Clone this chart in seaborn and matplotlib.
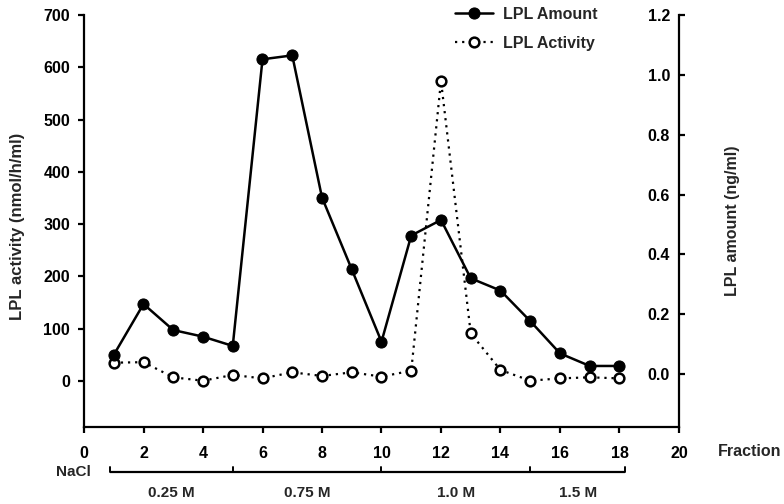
import numpy as np
import pandas as pd
import matplotlib
matplotlib.use("Agg")
import matplotlib.pyplot as plt
import matplotlib.transforms as mtransforms
import seaborn as sns

# ---- data ----
fractions = [1, 2, 3, 4, 5, 6, 7, 8, 9, 10, 11, 12, 13, 14, 15, 16, 17, 18]
lpl_amount = [0.064, 0.234, 0.147, 0.125, 0.094, 1.052, 1.065, 0.590, 0.350,
              0.108, 0.463, 0.515, 0.320, 0.279, 0.177, 0.069, 0.027, 0.027]
lpl_activity = [35, 36, 7, 0.5, 11.5, 5, 16.6, 9.6, 16.6,
                8.3, 19.7, 574, 91, 21, 0.6, 5, 7, 5]
x_ticks = [0, 2, 4, 6, 8, 10, 12, 14, 16, 18, 20]
left_ticks = [0, 100, 200, 300, 400, 500, 600, 700]
right_ticks = [0.0, 0.2, 0.4, 0.6, 0.8, 1.0, 1.2]
nacl_bounds = [0.87, 5, 10, 15, 18.2]
nacl_labels = ["0.25 M", "0.75 M", "1.0 M", "1.5 M"]

df = pd.DataFrame({"fraction": fractions, "amount": lpl_amount,
                   "activity": lpl_activity})

sns.set_theme(style="ticks")
plt.rcParams["font.family"] = ["Liberation Sans", "DejaVu Sans"]
plt.rcParams["font.weight"] = "bold"
plt.rcParams["axes.labelweight"] = "bold"

W, H = 784, 504
fig = plt.figure(figsize=(W / 100, H / 100), dpi=100)
L, R, T, B = 84, 679, 15, 427
ax = fig.add_axes([L / W, 1 - B / H, (R - L) / W, (B - T) / H])
ax2 = ax.twinx()

# LPL Activity (open circles, dotted) on left axis
sns.lineplot(data=df, x="fraction", y="activity", ax=ax, color="black",
             linestyle=(0, (1, 2.2)), linewidth=1.6, marker="o",
             markersize=7, markerfacecolor="white", markeredgecolor="black",
             markeredgewidth=1.8, label="LPL Activity", legend=False)
# LPL Amount (filled circles, solid) on right axis
sns.lineplot(data=df, x="fraction", y="amount", ax=ax2, color="black",
             linestyle="-", linewidth=1.8, marker="o", markersize=8,
             markerfacecolor="black", markeredgecolor="black",
             label="LPL Amount", legend=False)

ax.set_xlim(0, 20)
ax.set_ylim(-88, 700)
ax2.set_ylim(-0.177, 1.2)
ax.set_xticks(x_ticks)
ax.set_yticks(left_ticks)
ax2.set_yticks(right_ticks)
ax2.set_yticklabels([f"{v:.1f}" for v in right_ticks])

for a in (ax, ax2):
    for s in a.spines.values():
        s.set_linewidth(1.6)
        s.set_color("black")
ax.spines["top"].set_visible(False)
ax.spines["right"].set_visible(False)
ax2.spines["top"].set_visible(False)
ax2.spines["left"].set_visible(False)
ax2.spines["bottom"].set_visible(False)

ax.tick_params(axis="x", direction="out", length=4.5, width=1.6,
               labelsize=11.5, pad=9, colors="black")
ax.tick_params(axis="y", direction="out", length=4, width=1.6,
               labelsize=11.5, pad=6, colors="black")
ax2.tick_params(axis="y", direction="out", length=4, width=1.6,
                labelsize=11.5, pad=-10.5, colors="black")
for lbl in ax2.get_yticklabels():
    lbl.set_horizontalalignment("right")
for lbl in ax.get_xticklabels() + ax.get_yticklabels() + ax2.get_yticklabels():
    lbl.set_fontweight("bold")

ax.set_xlabel("")
ax.set_ylabel("LPL activity (nmol/h/ml)", fontsize=12, fontweight="bold")
ax.yaxis.set_label_coords(-0.099, 0.488)
ax2.set_ylabel("LPL amount (ng/ml)", fontsize=11.5, fontweight="bold")
ax2.yaxis.set_label_coords(1.077, 0.5)

fig.text(718 / W, 1 - 452 / H, "Fraction", ha="left", va="center",
         fontsize=11.5, fontweight="bold")

# NaCl bracket
trans = mtransforms.blended_transform_factory(ax.transData, ax.transAxes)
yb = -0.1085
cap = 0.011
ax.plot([nacl_bounds[0], nacl_bounds[-1]], [yb, yb], transform=trans,
        color="black", lw=1.6, clip_on=False, solid_capstyle="butt")
for xb in nacl_bounds:
    ax.plot([xb, xb], [yb, yb + cap], transform=trans, color="black",
            lw=1.4, clip_on=False)
for i, lab in enumerate(nacl_labels):
    xm = (nacl_bounds[i] + nacl_bounds[i + 1]) / 2
    ax.text(xm, -0.1595, lab, transform=trans, ha="center", va="center",
            fontsize=11, fontweight="bold")
ax.text(0.24, yb, "NaCl", transform=trans, ha="right", va="center",
        fontsize=11, fontweight="bold")

# legend
h1, l1 = ax2.get_legend_handles_labels()
h0, l0 = ax.get_legend_handles_labels()
leg = fig.legend(h1 + h0, l1 + l0, loc="upper left",
                 bbox_to_anchor=(455 / W, 1 - 7 / H), frameon=False,
                 borderpad=0, borderaxespad=0, handlelength=2.4,
                 handletextpad=0.6, labelspacing=0.85,
                 prop={"size": 11.5, "weight": "bold"})

fig.savefig("out.png", dpi=100, facecolor="white")
